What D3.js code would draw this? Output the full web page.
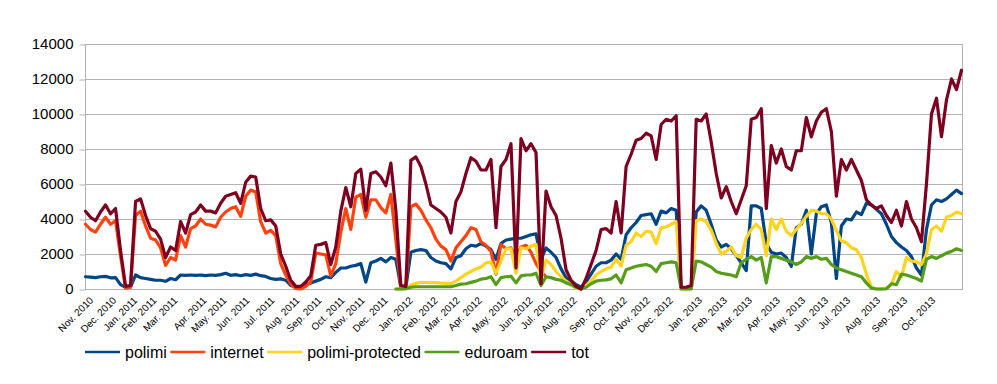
<!DOCTYPE html>
<html><head><meta charset="utf-8">
<script src="https://cdn.jsdelivr.net/npm/d3@7"></script>
<style>body{margin:0;background:#fff}svg{display:block}text{font-family:"Liberation Sans",Arial,sans-serif;fill:#000}</style>
</head><body><svg id="c" width="997" height="384"></svg>
<script>
// ---- data (one value per sample along the category axis) ----
const seriesNames = ["polimi","internet","polimi-protected","eduroam","tot"];
const seriesColors = ["#004586","#ff420e","#ffd320","#579d1c","#7e0021"];

const polimi = [700,680,650,700,720,640,650,250,100,100,800,650,600,550,500,500,440,600,530,800,
780,800,780,800,760,800,780,820,900,780,820,760,820,780,850,760,720,600,550,580,
500,200,120,150,250,350,450,550,700,650,950,1200,1200,1300,1350,1450,400,1500,1600,1750,
1550,1800,1700,100,100,2100,2200,2250,2200,1800,1600,1500,1450,1150,1800,1900,2300,2500,2450,2600,
2450,2250,1700,2600,2800,2850,2900,2900,3000,3100,3150,1700,2350,2100,1800,1150,650,450,250,100,
400,850,1300,1500,1500,1650,2000,1700,3100,3500,3800,4200,4250,4300,3700,4450,4350,4600,4500,100,
50,150,4400,4750,4500,3700,2800,2400,2550,2300,1900,1500,1050,4750,4750,4600,2600,2100,2000,2050,
1800,1300,3500,3700,4500,2000,4300,4700,4800,3800,600,3600,4000,3950,4400,4250,4900,4800,4550,4300,
3700,3000,2650,2400,2200,1850,1200,800,3400,4800,5100,5000,5150,5400,5650,5450];

const internet = [3700,3400,3250,3700,4100,3700,3900,1900,50,100,4200,4450,3600,2900,2800,2350,1350,1800,1650,3050,
2400,3450,3600,4000,3700,3650,3550,4100,4400,4600,4700,4150,5300,5650,5550,3850,3200,3350,3050,1450,
800,300,30,0,150,400,2050,2000,1950,750,1450,3250,4600,3400,5250,5400,4100,5100,5100,4650,
4350,5400,2800,50,50,4700,4850,4500,3950,3500,2850,2450,2250,1600,2350,2700,3050,3500,3400,2700,
2500,2150,850,2550,2300,2350,1800,2400,2500,2100,1450,1000,700];
const internetStart = 0;

const polimiProtected = [0,0,0,230,320,380,370,360,370,340,320,320,450,650,850,1000,1150,1250,1500,1550,
900,1600,2300,2300,900,2350,2300,2450,2550,600,1650,1400,1000,700,450,250,50,0,200,450,
800,1000,1150,1250,1700,1300,2500,2700,3200,3000,3300,3250,2600,3500,3550,3700,3850,0,0,0,
3900,4000,3850,3350,2600,2000,2150,2400,1900,1800,2900,3400,3700,3400,1900,4000,3400,4000,3300,3050,
3400,3750,4150,4500,4450,4300,4300,4000,3350,2750,2650,2350,2250,1800,850,100,0,0,50,250,
1000,700,1800,1600,1550,1400,2000,3400,3600,3300,4100,4200,4400,4300];
const polimiProtectedStart = 62;

const eduroam = [0,0,20,100,130,130,130,130,130,130,130,130,200,280,300,380,450,560,600,700,
250,650,700,730,350,750,800,800,900,200,700,650,550,500,350,250,100,0,100,300,
450,500,520,580,800,350,1100,1200,1300,1350,1400,1300,1000,1450,1500,1550,1500,0,0,0,
1600,1550,1400,1250,1000,900,850,800,700,1500,1700,1850,1650,1800,350,1850,1850,1750,1650,1550,
1400,1550,1850,1750,1850,1700,1750,1400,1200,1100,1000,900,800,700,350,50,0,0,0,300,
250,850,800,700,600,450,1700,1850,1750,1900,2050,2150,2300,2200];
const eduroamStart = 62;

const tot = [4440,4100,3900,4400,4800,4300,4600,2200,150,200,5000,5150,4200,3450,3300,2850,1800,2400,2200,3850,
3200,4250,4400,4800,4450,4450,4350,4900,5300,5400,5500,4900,6100,6450,6400,4600,3900,3950,3600,2000,
1300,500,150,150,400,750,2500,2550,2650,1400,2400,4450,5800,4700,6600,6850,4500,6600,6700,6400,
5900,7200,4500,200,150,7350,7550,7000,6000,4800,4600,4400,4100,3200,5000,5550,6600,7500,7300,6800,
6800,7400,3500,7000,7400,8300,1200,8600,7900,8300,7800,300,5600,4700,4200,2900,1100,500,150,0,
600,1400,2200,3400,3450,3200,5000,3200,7000,7700,8500,8600,8900,8750,7400,9400,9700,9600,9900,100,
100,200,9700,9600,10000,8400,6600,5200,5850,5000,4300,5100,5900,9700,9800,10300,4600,8200,7200,8000,
7000,6800,7900,7900,9800,8700,9600,10100,10300,9000,5300,7400,6800,7400,6800,6200,5100,4800,4600,4750,
4200,3800,4500,3600,5000,4000,3500,2700,6000,10000,10900,8700,10800,12000,11400,12500];
const totStart = 0;

const monthLabels = ["Nov. 2010","Dec. 2010","Jan. 2011","Feb. 2011","Mar. 2011","Apr. 2011","May. 2011","Jun. 2011",
"Jul. 2011","Aug. 2011","Sep. 2011","Oct. 2011","Nov. 2011","Dec. 2011","Jan. 2012","Feb. 2012","Mar. 2012",
"Apr. 2012","May. 2012","Jun. 2012","Jul. 2012","Aug. 2012","Sep. 2012","Oct. 2012","Nov. 2012","Dec. 2012",
"Jan. 2013","Feb. 2013","Mar. 2013","Apr. 2013","May. 2013","Jun. 2013","Jul. 2013","Aug. 2013","Sep. 2013","Oct. 2013"];
// category position (sample index) of each month label
const monthPos = [1.7,6.3,10.5,14.3,18.5,24.3,28.3,32.9,37.9,42.9,47.3,51.9,55.9,60.5,65.5,70.5,74.9,79.3,84.5,
89.5,93.5,98.3,103.9,108.3,112.9,117.5,123.3,128.3,133.3,138.9,143.9,148.5,152.9,158.9,164.3,169.9];

const yTicks = [0,2000,4000,6000,8000,10000,12000,14000];

// ---- drawing ----
const svg = d3.select("#c");
svg.append("rect").attr("width",997).attr("height",384).attr("fill","#fff");
const L = 85, R = 962, T = 44, B = 289;
const N = tot.length;
const x = d3.scaleLinear().domain([0, N-1]).range([85.5, 961.5]);
const y = d3.scaleLinear().domain([0, 14000]).range([B, T]);
const grid = "#b3b3b3";

// gridlines
svg.append("g").selectAll("line").data(yTicks).join("line")
  .attr("x1", L).attr("x2", R)
  .attr("y1", d => Math.round(y(d))+0.5).attr("y2", d => Math.round(y(d))+0.5)
  .attr("stroke", grid).attr("stroke-width", 1);
// frame
svg.append("line").attr("x1",L+0.5).attr("x2",L+0.5).attr("y1",T).attr("y2",B+1).attr("stroke",grid);
svg.append("line").attr("x1",R+0.5).attr("x2",R+0.5).attr("y1",T).attr("y2",B+1).attr("stroke",grid);

// y axis ticks + labels
const yAxis = svg.append("g").attr("transform", `translate(${L+0.5},0.5)`)
  .call(d3.axisLeft(y).tickValues(yTicks).tickSize(6).tickPadding(6).tickFormat(d3.format("d")));
yAxis.select(".domain").remove();
yAxis.selectAll("line").attr("stroke", grid);
yAxis.selectAll("text").attr("font-size", 15).attr("font-family", '"Liberation Sans",Arial,sans-serif').attr("fill","#000");
yAxis.selectAll("text").attr("transform","translate(0,-0.5)");

// x labels
svg.append("g").selectAll("text").data(monthLabels).join("text")
  .attr("transform", (d,i) => `translate(${x(monthPos[i])},301) rotate(-45)`)
  .attr("text-anchor","end").attr("font-size",10).text(d => d);

// series
const defs = [
  {name:"polimi", vals: polimi, start: 0},
  {name:"internet", vals: internet, start: internetStart},
  {name:"polimi-protected", vals: polimiProtected, start: polimiProtectedStart},
  {name:"eduroam", vals: eduroam, start: eduroamStart},
  {name:"tot", vals: tot, start: totStart}
];
const line = d3.line().x(d => x(d[0])).y(d => y(d[1])).curve(d3.curveLinear);
defs.forEach((s, k) => {
  const pts = s.vals.map((v, i) => [i + s.start, v]);
  svg.append("path").datum(pts).attr("d", line)
    .attr("fill","none").attr("stroke", seriesColors[k]).attr("stroke-width", 3.2)
    .attr("stroke-linejoin","round").attr("stroke-linecap","round");
});

// legend
const lg = svg.append("g");
let cx = 85;
seriesNames.forEach((n, k) => {
  lg.append("line").attr("x1", cx).attr("x2", cx+35).attr("y1", 352).attr("y2", 352)
    .attr("stroke", seriesColors[k]).attr("stroke-width", 2.6);
  const t = lg.append("text").attr("x", cx+40).attr("y", 357.5).attr("font-size", 16).text(n);
  cx += 40 + t.node().getComputedTextLength() + 3.5;
});
</script></body></html>
